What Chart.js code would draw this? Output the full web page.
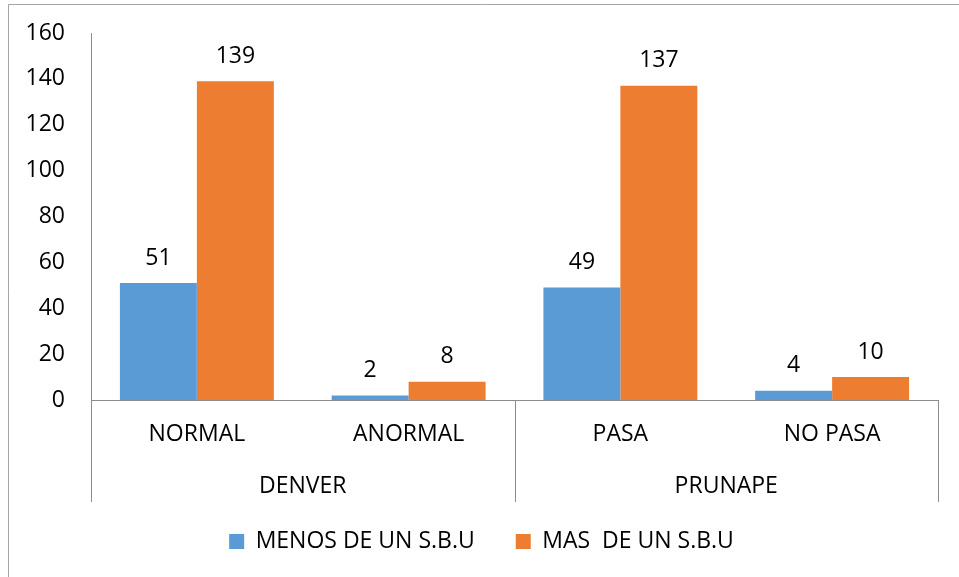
<!DOCTYPE html>
<html>
<head>
<meta charset="utf-8">
<script src="https://cdn.jsdelivr.net/npm/chart.js@4.4.1/dist/chart.umd.min.js"></script>
<style>
  html, body { margin: 0; padding: 0; background: #fff; }
  #wrap { width: 959px; height: 577px; position: relative; }
</style>
</head>
<body>
<div id="wrap"><canvas id="myChart" width="959" height="577"></canvas></div>
<script>
// datos
const categorias = ["NORMAL", "ANORMAL", "PASA", "NO PASA"];
const grupos = ["DENVER", "PRUNAPE"];
const menosSBU = [51, 2, 49, 4];
const masSBU = [139, 8, 137, 10];
const nombresSeries = ["MENOS DE UN S.B.U", "MAS  DE UN S.B.U"];

const FUENTE = "'Open Sans', sans-serif";
const TAM = 23;
const GRIS = "#8c8c8c";

// etiquetas de valor, lineas de grupo y borde
const extras = {
  id: "extras",
  beforeDraw(chart) {
    const ctx = chart.ctx;
    ctx.save();
    ctx.fillStyle = "#fff";
    ctx.fillRect(0, 0, chart.width, chart.height);
    ctx.strokeStyle = "#a6a6a6";
    ctx.lineWidth = 1;
    ctx.beginPath();
    ctx.moveTo(8.5, chart.height + 5);
    ctx.lineTo(8.5, 4.5);
    ctx.lineTo(chart.width + 5, 4.5);
    ctx.stroke();
    ctx.restore();
  },
  afterDraw(chart) {
    const ctx = chart.ctx;
    const area = chart.chartArea;
    const x = chart.scales.x;
    const fondo = area.bottom + 102;
    ctx.save();
    ctx.strokeStyle = GRIS;
    ctx.lineWidth = 1;
    const medio = (x.getPixelForValue(1) + x.getPixelForValue(2)) / 2;
    [area.left, medio, area.right].forEach(px => {
      const xx = Math.round(px) + 0.5;
      ctx.beginPath();
      ctx.moveTo(xx, area.bottom);
      ctx.lineTo(xx, fondo);
      ctx.stroke();
    });
    ctx.fillStyle = "#000";
    ctx.font = TAM + "px " + FUENTE;
    ctx.textAlign = "center";
    ctx.textBaseline = "middle";
    ctx.fillText(grupos[0], (area.left + medio) / 2, area.bottom + 86);
    ctx.fillText(grupos[1], (medio + area.right) / 2, area.bottom + 86);
    chart.data.datasets.forEach((ds, i) => {
      chart.getDatasetMeta(i).data.forEach((bar, j) => {
        ctx.fillText(String(ds.data[j]), bar.x, bar.y - 25);
      });
    });
    ctx.restore();
  }
};

const config = {
  type: "bar",
  data: {
    labels: categorias,
    datasets: [
      { label: nombresSeries[0], data: menosSBU, backgroundColor: "#5b9bd5" },
      { label: nombresSeries[1], data: masSBU, backgroundColor: "#ed7d31" }
    ]
  },
  options: {
    responsive: false,
    animation: false,
    categoryPercentage: 0.727,
    barPercentage: 1,
    layout: { padding: { top: 33, right: 21, left: 25, bottom: 14 } },
    scales: {
      x: {
        grid: { display: false, drawTicks: false },
        border: { color: GRIS, width: 1 },
        ticks: { color: "#000", font: { family: FUENTE, size: TAM }, padding: 21, maxRotation: 0 },
        afterFit(scale) {
          scale.height = 89;
          scale.paddingLeft = 0;
          scale.paddingRight = 0;
        }
      },
      y: {
        min: 0,
        max: 160,
        grid: { display: false, drawTicks: false },
        border: { color: GRIS, width: 1 },
        ticks: { stepSize: 20, color: "#000", font: { family: FUENTE, size: TAM }, padding: 26 },
        afterFit(scale) {
          scale.width = 66;
          scale.paddingTop = 0;
          scale.paddingBottom = 0;
        }
      }
    },
    plugins: {
      legend: {
        position: "bottom",
        labels: {
          color: "#000",
          font: { family: FUENTE, size: TAM },
          boxWidth: 15,
          boxHeight: 15,
          padding: 41
        }
      },
      tooltip: { enabled: false }
    }
  },
  plugins: [extras]
};

const chartDOM = document.getElementById("myChart");
new Chart(chartDOM, config);
</script>
</body>
</html>
